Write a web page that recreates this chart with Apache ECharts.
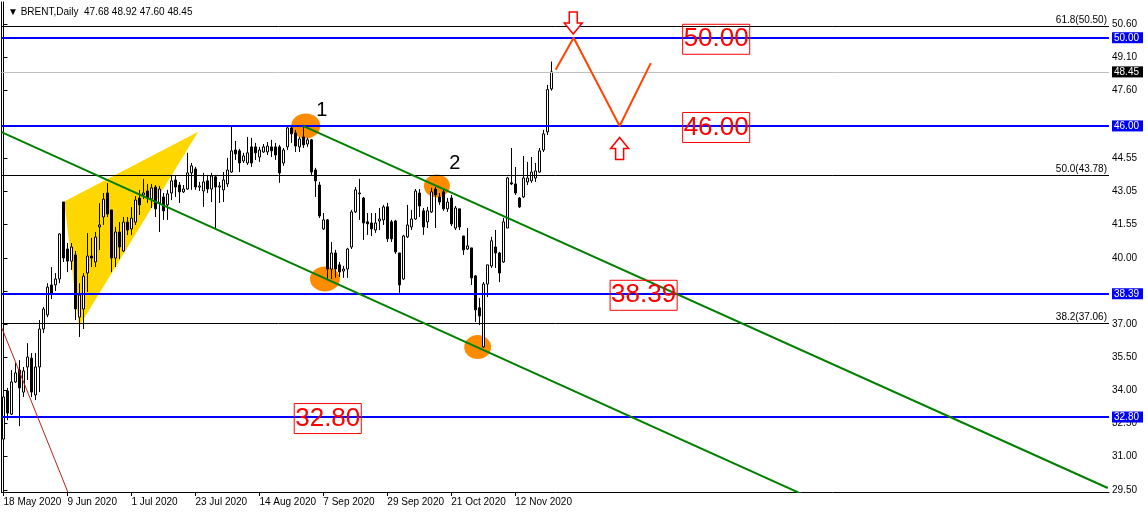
<!DOCTYPE html>
<html><head><meta charset="utf-8">
<script src="https://cdn.jsdelivr.net/npm/echarts@6/dist/echarts.min.js"></script>
<style>html,body{margin:0;padding:0;background:#fff}#c{width:1148px;height:513px}</style>
</head><body><div id="c"></div>
<script>
// ---------- data ----------
const symbolName = 'BRENT,Daily';
const firstDate = '2020-05-18';
const slotCount = 277;            // visible daily slots (incl. empty future)
const tickEvery = 16;
const tickLabels = ['18 May 2020','9 Jun 2020','1 Jul 2020','23 Jul 2020','14 Aug 2020','7 Sep 2020','29 Sep 2020','21 Oct 2020','12 Nov 2020'];

const opens = [31.80,33.98,32.93,34.39,34.93,33.93,35.07,35.47,33.80,35.07,
36.79,37.43,38.79,38.79,39.06,42.55,40.42,39.87,40.15,37.33,
37.70,39.33,40.10,39.83,41.42,41.87,42.96,42.19,40.01,41.19,
40.33,41.64,41.33,41.64,42.73,42.87,43.05,42.69,43.23,42.51,
42.78,42.42,42.96,43.55,43.32,43.01,43.14,43.87,44.05,43.23,
43.05,43.51,43.14,43.69,43.23,43.10,43.37,43.91,44.91,44.87,
44.41,44.32,45.05,45.05,44.59,44.82,44.82,45.05,45.05,45.05,
44.32,45.05,45.91,45.68,45.05,45.50,45.18,45.37,44.00,43.32,
41.33,41.74,39.51,40.24,39.70,39.42,39.51,40.51,42.10,42.92,
42.73,41.65,41.60,41.28,41.69,41.74,42.33,41.65,41.69,40.24,
39.06,40.97,41.42,41.78,42.96,42.15,41.65,42.10,43.14,42.78,
43.01,42.24,42.73,41.37,42.24,41.01,40.42,40.47,39.20,37.75,
35.98,38.83,39.65,40.51,40.24,39.83,41.37,43.42,43.37,42.73,
42.78,43.46,43.51,43.64,43.91,44.91,45.73,47.68];
const closes = [33.71,32.98,34.39,34.80,34.12,34.89,35.52,33.93,35.07,36.79,
37.70,38.69,38.38,39.06,41.10,40.01,39.87,40.51,37.70,38.33,
39.19,40.10,40.01,40.96,41.51,42.68,42.01,40.01,41.19,40.51,
41.64,41.28,41.82,42.64,42.42,42.96,42.73,43.19,42.24,43.14,
42.15,42.92,43.51,43.23,43.01,43.14,43.87,44.19,43.23,43.28,
43.46,43.14,43.73,43.23,43.28,43.55,44.00,44.87,44.73,44.32,
44.64,44.78,44.32,44.78,44.91,45.05,45.09,44.87,44.68,43.87,
44.91,45.91,45.64,45.09,45.41,45.14,45.37,43.91,43.51,41.92,
41.74,39.51,40.24,39.51,39.38,39.51,40.42,42.10,43.10,42.96,
41.60,41.56,41.33,41.60,41.78,42.33,40.88,40.88,40.29,38.79,
41.01,41.51,41.78,43.05,42.37,41.42,42.15,43.01,42.87,42.55,
42.24,42.55,41.56,42.28,41.42,40.38,40.56,39.11,37.66,37.38,
38.83,39.70,40.79,40.24,39.33,41.65,43.64,43.37,42.96,42.33,
43.64,43.64,43.91,43.96,44.87,45.64,47.65,48.45];
const lows = [31.67,32.66,32.89,34.34,32.39,33.71,34.48,33.71,33.57,33.93,
36.61,37.33,38.15,38.51,38.87,39.83,39.37,39.47,37.20,36.43,
36.79,38.47,39.60,39.60,40.37,41.51,41.87,39.37,39.60,39.96,
40.28,41.05,41.05,41.51,41.96,42.69,42.51,42.28,41.87,41.19,
41.74,41.74,42.64,42.78,42.51,42.96,43.10,43.10,43.10,43.05,
42.33,42.96,42.55,41.37,42.51,42.55,43.23,43.87,44.46,43.91,
44.32,44.23,44.14,44.46,44.37,44.78,44.68,44.59,44.46,43.42,
44.19,44.91,45.23,44.82,44.82,45.00,45.05,43.78,42.78,41.83,
41.28,39.06,39.06,39.11,39.15,39.11,39.11,40.42,42.05,41.74,
40.83,41.06,41.01,41.15,41.28,41.51,40.74,40.74,40.20,38.43,
39.02,40.92,41.28,41.74,41.87,41.06,41.37,42.05,41.37,42.42,
42.15,42.10,41.46,41.28,41.28,40.15,40.38,38.79,37.11,36.97,
35.93,38.24,39.56,39.56,38.92,39.79,41.37,43.32,42.87,42.28,
42.73,43.32,43.42,43.46,43.87,44.82,45.59,47.60];
const highs = [34.02,34.12,34.93,35.25,35.38,35.07,36.15,35.70,35.70,37.20,
37.79,38.87,39.60,39.33,41.14,42.55,40.69,40.69,40.33,38.87,
39.33,41.14,40.92,41.19,42.50,42.96,43.41,42.19,41.42,41.64,
41.87,41.87,42.32,42.82,43.10,43.60,43.37,43.37,43.32,43.28,
42.96,43.10,43.78,43.73,43.46,43.32,44.78,44.32,44.14,43.46,
43.87,43.78,43.87,43.78,43.46,43.91,44.55,45.96,45.32,44.96,
44.78,45.50,45.46,45.23,45.05,45.18,45.27,45.37,45.23,45.14,
45.00,46.00,45.96,45.82,45.50,46.05,45.46,45.41,44.10,43.46,
42.05,41.78,40.74,40.38,39.83,39.65,40.47,42.19,43.23,43.60,
42.78,42.05,42.05,42.05,42.28,42.42,42.51,41.74,41.74,40.24,
41.06,42.42,42.19,43.14,43.14,42.28,42.33,43.19,43.23,42.96,
43.10,42.73,42.87,42.37,42.24,41.01,41.37,40.47,39.24,38.20,
38.92,39.70,40.97,41.28,40.29,41.83,43.69,45.00,44.14,42.78,
44.64,44.37,44.59,44.32,45.00,45.82,47.86,48.92];

// horizontal levels
const blueLevels = [50.00, 46.00, 38.39, 32.80];
const fibLevels = [50.50, 43.78, 37.06];
const fibNames = ['61.8', '50.0', '38.2'];
const lastPrice = 48.45;
const yTickValues = [29.50, 31.00, 32.50, 34.00, 35.50, 37.00, 38.50, 40.00, 41.55, 43.05, 44.55, 46.05, 47.60, 49.10, 50.60];
const yLabelValues = [29.50, 31.00, 32.50, 34.00, 35.50, 37.00, 40.00, 41.55, 43.05, 44.55, 47.60, 49.10, 50.60];

// drawn objects, in (bar index, price)
const channelLow = [[-0.5, 45.72], [200, 29.28]];
const channelHigh = [[74.9, 46.00], [276.2, 29.58]];
const redLine = [[-0.4, 36.83], [16.6, 29.17]];
const zigzag = [[138.1, 48.55], [142.6, 50.00], [154.1, 46.00], [161.9, 48.85]];
const triangleIdx = [15.2, 48.7, 18.9];
const trianglePrice = [42.57, 45.74, 36.90];
const ellipseCenters = [[75.6, 46.00], [108.4, 43.28], [80.4, 39.06], [118.6, 35.97]];
const waveLabels = ['1', '2'];
const wavePoints = [[79.6, 46.72], [112.9, 44.28]];
const boxTexts = ['50.00', '46.00', '38.39', '32.80'];
const boxPoints = [[178.25, 49.93], [178.25, 45.93], [160.1, 38.32], [81.1, 32.73]];
const arrowPoints = [[142.5, 50.67, -1], [154.1, 44.98, 1]];

// ---------- build ----------
const categories = [];
{
  const d = new Date(firstDate + 'T00:00:00Z');
  while (categories.length < slotCount) {
    const wd = d.getUTCDay();
    if (wd !== 0 && wd !== 6) categories.push(d.toISOString().slice(0, 10));
    d.setUTCDate(d.getUTCDate() + 1);
  }
}
const candles = opens.map((o, i) => [o, closes[i], lows[i], highs[i]]);
const nBars = opens.length;
const showTick = (idx) => idx % tickEvery === 0 && idx < nBars - 4;

const ellipseSizes = [[29, 25], [26, 23], [30, 25], [27, 24]];
const FONT = 'Liberation Sans, Arial, sans-serif';

const fmt = v => Number(v).toFixed(2);
const last = nBars - 1;
const header = '\u25BC ' + symbolName + '  ' + fmt(opens[last]) + ' ' + fmt(highs[last]) + ' ' + fmt(lows[last]) + ' ' + fmt(closes[last]);

const downArrow = [[-4,-11],[4,-11],[4,0],[9,0],[0,11],[-9,0],[-4,0]];
const upArrow = [[0,-11],[9,0],[4,0],[4,11],[-4,11],[-4,0],[-9,0]];

const chart = echarts.init(document.getElementById('c'), null, {renderer: 'canvas'});
const option = {
  animation: false,
  backgroundColor: '#ffffff',
  title: {
    text: header, left: 3, top: 2,
    textStyle: {fontSize: 10, fontWeight: 'normal', color: '#000', fontFamily: FONT}
  },
  grid: {left: 1.5, right: 39, top: 2, bottom: 21, containLabel: false},
  xAxis: [{
    type: 'category', data: categories, boundaryGap: true,
    axisLine: {lineStyle: {color: '#000', width: 1}},
    axisTick: {show: true, alignWithLabel: true, interval: (i) => showTick(i), length: 4, lineStyle: {color: '#000'}},
    axisLabel: {
      interval: (i) => showTick(i), align: 'left', margin: 5,
      fontSize: 10, color: '#000', fontFamily: FONT,
      formatter: (v, i) => tickLabels[i / tickEvery] || ''
    },
    splitLine: {show: false}
  }, {
    type: 'value', min: -0.5, max: slotCount - 0.5, show: false
  }],
  yAxis: [{
    type: 'value', position: 'right', min: 29.40, max: 51.62, scale: true,
    axisLine: {show: true, lineStyle: {color: '#000', width: 1}},
    axisTick: {show: true, length: 4, customValues: yTickValues, lineStyle: {color: '#000'}},
    axisLabel: {
      customValues: yLabelValues.concat([lastPrice], blueLevels),
      margin: 3, fontSize: 10, color: '#000', fontFamily: FONT,
      formatter: (v) => {
        if (blueLevels.some(b => Math.abs(b - v) < 1e-6)) return '{b|' + fmt(v) + '}';
        if (Math.abs(v - lastPrice) < 1e-6) return '{k|' + fmt(v) + '}';
        return fmt(v);
      },
      rich: {
        b: {backgroundColor: '#0000ff', color: '#fff', padding: [1, 4, 0, 2], fontSize: 10, fontFamily: FONT, lineHeight: 11},
        k: {backgroundColor: '#000', color: '#fff', padding: [1, 4, 0, 2], fontSize: 10, fontFamily: FONT, lineHeight: 11}
      }
    },
    splitLine: {show: false}
  }, {
    type: 'value', position: 'left', min: 29.40, max: 51.62,
    axisLine: {show: true, onZero: false, lineStyle: {color: '#000', width: 1}},
    axisTick: {show: false}, axisLabel: {show: false}, splitLine: {show: false}
  }],
  series: [
    { // yellow triangle
      type: 'custom', xAxisIndex: 1, yAxisIndex: 0, z: 1, silent: true, clip: true,
      data: [[triangleIdx[0], trianglePrice[0]]],
      renderItem: (params, api) => ({
        type: 'polygon',
        shape: {points: triangleIdx.map((x, k) => api.coord([x, trianglePrice[k]]))},
        style: {fill: '#ffd700', stroke: null}
      })
    },
    { // orange ellipses
      type: 'scatter', xAxisIndex: 1, yAxisIndex: 0, z: 1, silent: true,
      data: ellipseCenters,
      symbol: 'circle',
      symbolSize: (val, p) => ellipseSizes[p.dataIndex],
      itemStyle: {color: '#ff8c00', opacity: 1}
    },
    { // candles
      type: 'candlestick', xAxisIndex: 0, yAxisIndex: 0, z: 3,
      data: candles, barWidth: 2,
      itemStyle: {color: '#ffffff', color0: '#000000', borderColor: '#000000', borderColor0: '#000000', borderWidth: 1}
    },
    { // horizontal levels
      type: 'line', xAxisIndex: 1, yAxisIndex: 0, z: 4, data: [], silent: true,
      markLine: {
        symbol: 'none', silent: true, animation: false,
        data: [
          ...fibLevels.map((v, k) => ({yAxis: v, lineStyle: {color: '#000', width: 1, type: 'solid'},
            label: {show: true, position: 'insideEndTop', distance: [2, 1], formatter: fibNames[k] + '(' + fmt(v) + ')', fontSize: 10, color: '#000', fontFamily: FONT}})),
          {yAxis: lastPrice, lineStyle: {color: '#c0c0c0', width: 1, type: 'solid'}, label: {show: false}},
          ...blueLevels.map(v => ({yAxis: v, lineStyle: {color: '#0000ff', width: 2, type: 'solid'}, label: {show: false}}))
        ]
      }
    },
    {type: 'line', xAxisIndex: 1, yAxisIndex: 0, z: 5, data: channelLow, showSymbol: false, silent: true, clip: true,
      lineStyle: {color: '#008000', width: 2}},
    {type: 'line', xAxisIndex: 1, yAxisIndex: 0, z: 5, data: channelHigh, showSymbol: false, silent: true, clip: true,
      lineStyle: {color: '#008000', width: 2}},
    {type: 'line', xAxisIndex: 1, yAxisIndex: 0, z: 5, data: redLine, showSymbol: false, silent: true, clip: true,
      lineStyle: {color: '#b22222', width: 1}},
    {type: 'line', xAxisIndex: 1, yAxisIndex: 0, z: 5, data: zigzag, showSymbol: false, silent: true, clip: true,
      lineStyle: {color: '#ff4500', width: 2}},
    { // arrows
      type: 'custom', xAxisIndex: 1, yAxisIndex: 0, z: 6, silent: true,
      data: arrowPoints,
      renderItem: (params, api) => {
        const c = api.coord([api.value(0), api.value(1)]);
        const shape = api.value(2) > 0 ? upArrow : downArrow;
        return {type: 'polygon', shape: {points: shape.map(([dx, dy]) => [c[0] + dx, c[1] + dy])},
          style: {fill: '#ffffff', stroke: '#ff0000', lineWidth: 1.5}};
      }
    },
    { // wave numbers
      type: 'scatter', xAxisIndex: 1, yAxisIndex: 0, z: 6, silent: true,
      data: wavePoints, symbolSize: 0, itemStyle: {opacity: 1},
      label: {show: true, position: 'inside', formatter: p => waveLabels[p.dataIndex], fontSize: 20, color: '#000', opacity: 1, fontFamily: FONT}
    },
    { // boxed level texts
      type: 'scatter', xAxisIndex: 1, yAxisIndex: 0, z: 6, silent: true,
      data: boxPoints, symbolSize: 0, itemStyle: {opacity: 1},
      label: {show: true, position: 'inside', formatter: p => boxTexts[p.dataIndex], fontSize: 26, color: '#ff0000', opacity: 1, fontFamily: FONT,
        borderColor: '#ff0000', borderWidth: 1, padding: [2, 1, 0, 1], lineHeight: 28}
    }
  ]
};
chart.setOption(option);
</script></body></html>
